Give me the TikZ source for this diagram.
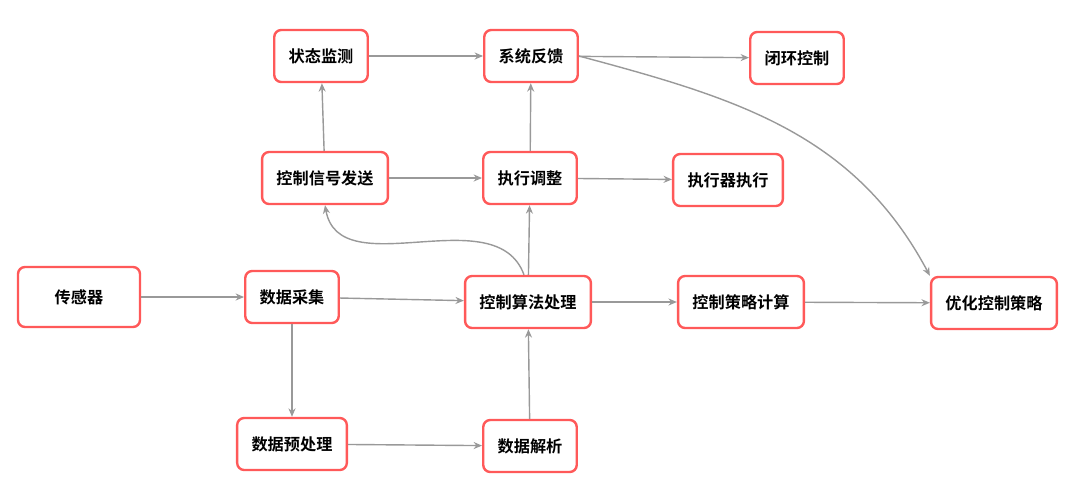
\documentclass[tikz,border=0pt]{standalone}
\usepackage{fontspec}
\setmainfont{Noto Sans CJK SC}[BoldFont={Noto Sans CJK SC Bold}]
\usepackage{tikz}
\usetikzlibrary{arrows.meta}
\tikzset{
	box/.style={draw=red!65!white, line width=1.7pt, rounded corners=5pt, fill=white,
		minimum height=1.3cm, inner xsep=0.36cm, font=\bfseries\fontsize{11.5}{13}\selectfont},
	link/.style={draw=black!40, line width=1pt, -{Stealth[length=6pt,width=5pt]}}
}
\begin{document}
\begin{tikzpicture}[x=0.025cm,y=-0.025cm]
	\useasboundingbox (0,0) rectangle (1080,502);
	\node[box] (ZT) at (321,56) {状态监测};
	\node[box] (FK) at (531,56) {系统反馈};
	\node[box] (BH) at (797,58) {闭环控制};
	\node[box] (XH) at (325,178) {控制信号发送};
	\node[box] (TZ) at (530,178) {执行调整};
	\node[box] (ZX) at (728,180) {执行器执行};
	\node[box, minimum width=3.05cm, minimum height=1.5cm] (CG) at (79,297) {传感器};
	\node[box] (CJ) at (292,297) {数据采集};
	\node[box] (SF) at (528,302) {控制算法处理};
	\node[box] (CL) at (741,302) {控制策略计算};
	\node[box] (YH) at (994,303) {优化控制策略};
	\node[box] (YC) at (292,444) {数据预处理};
	\node[box] (JX) at (530,446) {数据解析};
	%
	\path[link]
	(CG) edge (CJ)
	(CJ) edge (SF)
	(CJ) edge (YC)
	(YC) edge (JX)
	(JX) edge (SF)
	(SF) edge (CL)
	(CL) edge (YH)
	(SF) edge (TZ)
	(XH) edge (TZ)
	(TZ) edge (ZX)
	(XH) edge (ZT)
	(ZT) edge (FK)
	(TZ) edge (FK)
	(FK) edge (BH);
	\draw[link] ([xshift=-0.1cm]SF.north) to[out=110,in=-80] (XH.south);
	\draw[link] (FK.east) to[out=-15,in=118] (YH.north west);
\end{tikzpicture}
\end{document}
